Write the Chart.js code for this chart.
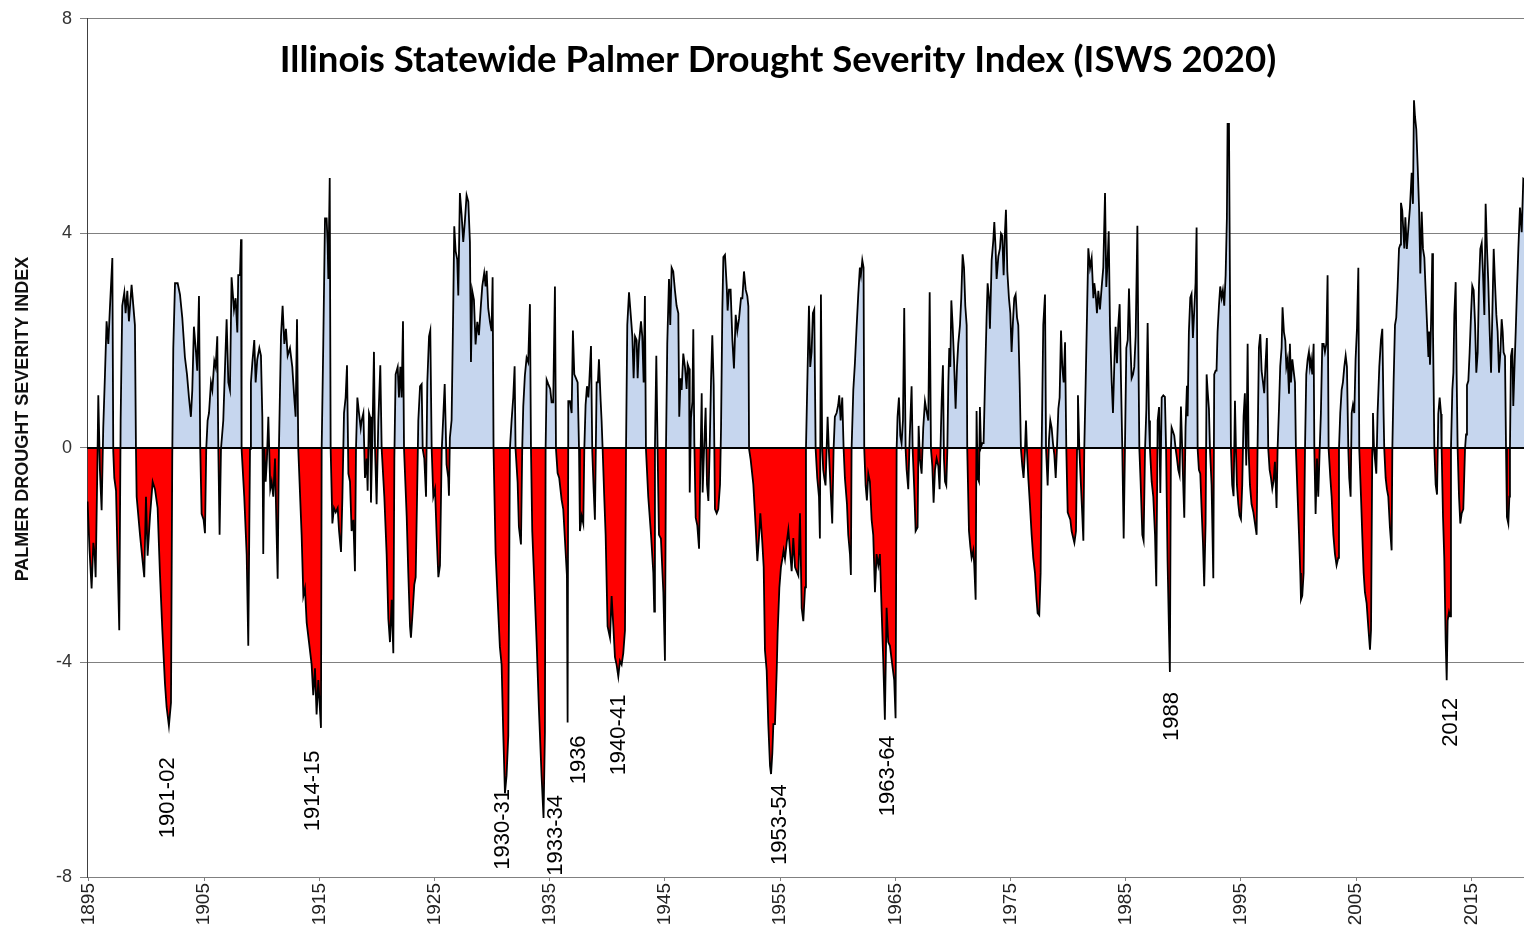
<!DOCTYPE html>
<html>
<head>
<meta charset="utf-8">
<title>Illinois Statewide Palmer Drought Severity Index</title>
<script src="https://cdn.jsdelivr.net/npm/chart.js@4.4.1/dist/chart.umd.min.js"></script>
<style>
  html, body { margin: 0; padding: 0; background: #fff; }
  #chart { display: block; }
</style>
</head>
<body>
<canvas id="chart" width="1524" height="933"></canvas>
<script>
// monthly PDSI turning points, one pair of arrays per stretch of years
const t1895 = [1894.88,1895.05,1895.23,1895.38,1895.50,1895.58,1895.75,1895.81,1895.95,1896.10,
  1896.24,1896.39,1896.53,1896.68,1896.82,1897.03,1897.11,1897.20,1897.35,1897.63,
  1897.75,1897.89,1898.07,1898.18,1898.33,1898.47,1898.70,1898.99,1899.08,1899.14,
  1899.43,1899.63,1899.80,1899.95,1900.09,1900.30,1900.53,1900.73,1900.96,1901.16,
  1901.37,1901.60,1901.74,1901.94,1902.12,1902.23,1902.32,1902.47,1902.70,1902.90,
  1903.10,1903.33,1903.51,1903.68,1903.85,1903.97,1904.11,1904.29,1904.40,1904.55,
  1904.66,1904.78,1904.95,1905.07];
const v1895 = [-1.0,-1.9,-2.62,-1.77,-2.0,-2.41,-0.06,0.98,-0.41,-1.16,
  0.37,1.37,2.36,1.94,2.61,3.54,-0.06,-0.56,-0.8,-3.40,
  0.51,2.65,2.90,2.51,2.93,2.36,3.04,2.29,-0.02,-0.91,
  -1.62,-2.05,-2.41,-0.91,-2.01,-1.27,-0.63,-0.77,-1.12,-2.33,
  -3.40,-4.40,-4.83,-5.18,-4.75,-0.20,1.86,3.07,3.07,2.86,
  2.43,1.69,1.37,0.94,0.58,1.08,2.26,1.79,1.44,2.83,
  -0.02,-1.23,-1.34,-1.59];

const t1905 = [1905.18,1905.30,1905.42,1905.59,1905.71,1905.88,1906.00,1906.14,1906.23,1906.34,
  1906.46,1906.66,1906.81,1906.95,1907.10,1907.24,1907.38,1907.59,1907.73,1907.88,
  1907.96,1908.11,1908.20,1908.25,1908.48,1908.69,1908.83,1908.98,1909.06,1909.18,
  1909.35,1909.47,1909.61,1909.79,1909.93,1910.05,1910.13,1910.22,1910.34,1910.45,
  1910.57,1910.65,1910.74,1910.86,1911.00,1911.15,1911.29,1911.38,1911.49,1911.67,
  1911.81,1911.96,1912.10,1912.25,1912.45,1912.65,1912.82,1912.94,1913.06,1913.17,
  1913.46,1913.61,1913.75,1913.90,1914.10,1914.33,1914.47,1914.62,1914.76,1914.91,
  1915.14,1915.20,1915.34,1915.49];
const v1905 = [-0.02,0.51,0.65,1.22,1.08,1.62,1.51,2.08,-0.02,-1.62,
  -0.02,0.51,1.51,2.40,1.22,1.08,3.18,2.58,2.79,2.15,
  3.22,3.22,3.89,-0.02,-0.91,-1.98,-3.69,-0.02,1.22,1.58,
  2.01,1.22,1.65,1.86,1.72,0.58,-1.98,0.01,-0.63,-0.20,
  0.58,-0.06,-0.77,-0.63,-0.91,-0.20,-1.62,-2.44,-0.02,2.08,
  2.65,1.94,2.22,1.72,1.86,1.51,0.94,0.58,2.40,-0.02,
  -1.62,-2.76,-2.62,-3.26,-3.62,-4.04,-4.61,-4.11,-4.97,-4.33,
  -5.22,-0.02,1.94,4.28];

const t1915 = [1915.63,1915.72,1915.78,1915.90,1915.98,1916.13,1916.27,1916.42,1916.59,1916.71,
  1916.88,1917.00,1917.14,1917.28,1917.40,1917.52,1917.66,1917.80,1917.95,1918.09,
  1918.18,1918.30,1918.44,1918.59,1918.67,1918.82,1918.96,1919.11,1919.19,1919.31,
  1919.40,1919.48,1919.63,1919.74,1919.83,1919.97,1920.12,1920.29,1920.41,1920.64,
  1920.84,1920.99,1921.13,1921.28,1921.42,1921.51,1921.62,1921.80,1921.91,1922.03,
  1922.14,1922.26,1922.35,1922.58,1922.72,1922.87,1922.95,1923.10,1923.24,1923.36,
  1923.48,1923.59,1923.74,1923.88,1923.97,1924.11,1924.26,1924.37,1924.52,1924.63,
  1924.75,1924.89,1925.04,1925.18,1925.33,1925.47,1925.62,1925.76,1925.88];
const v1915 = [4.28,3.79,3.15,5.03,-0.02,-1.41,-1.12,-1.20,-1.12,-1.55,
  -1.94,-0.91,0.65,0.94,1.54,-0.48,-0.63,-1.55,-1.34,-2.30,
  -0.02,0.94,0.65,0.37,0.51,0.65,-0.56,-0.20,-0.80,0.65,
  0.58,-1.02,0.51,1.79,0.01,-1.05,0.51,1.54,-0.02,-0.91,
  -1.98,-3.19,-3.62,-2.83,-3.83,-0.20,1.37,1.51,0.94,1.51,
  0.94,2.36,-0.02,-1.27,-2.33,-3.33,-3.54,-3.05,-2.55,-2.41,
  -0.91,0.51,1.15,1.19,-0.02,-0.20,-0.91,1.22,2.08,2.19,
  -0.02,-0.91,-0.77,-1.62,-2.41,-2.19,-0.06,0.6,1.19];

const t1926 = [1926.04,1926.19,1926.25,1926.33,1926.48,1926.62,1926.71,1926.83,1926.97,1927.06,
  1927.20,1927.35,1927.49,1927.64,1927.78,1927.93,1928.07,1928.16,1928.27,1928.42,
  1928.56,1928.71,1928.85,1929.03,1929.14,1929.31,1929.43,1929.52,1929.66,1929.81,
  1929.95,1930.04,1930.12,1930.30,1930.47,1930.67,1930.82,1930.96,1931.11,1931.25,
  1931.40,1931.54,1931.69,1931.83,1931.95,1932.03,1932.21,1932.32,1932.50,1932.61,
  1932.70,1932.84,1932.99,1933.13,1933.28,1933.37,1933.48,1933.65,1933.86,1934.06,
  1934.29,1934.46,1934.58,1934.64,1934.73,1934.87,1935.04,1935.16,1935.30,1935.45,
  1935.54,1935.68,1935.82,1936.03,1936.17,1936.32,1936.49];
const v1926 = [-0.31,-0.56,-0.89,0.19,0.52,2.60,4.13,3.67,3.51,2.84,
  4.75,4.34,3.84,4.25,4.71,4.59,3.84,1.60,2.93,2.76,
  1.93,2.35,2.10,2.68,3.01,3.26,3.01,3.30,2.60,2.35,
  2.18,3.18,-0.02,-1.97,-2.79,-3.71,-4.04,-5.29,-6.44,-6.11,
  -5.36,-0.02,0.52,0.94,1.52,-0.02,-0.64,-1.47,-1.80,-0.02,
  0.77,1.35,1.68,1.60,2.68,-0.02,-1.55,-2.46,-3.62,-4.87,
  -6.11,-6.90,-5.29,-0.02,1.27,1.19,1.10,0.85,0.85,3.01,
  -0.02,-0.47,-0.56,-0.97,-1.14,-1.72,-2.38];

const t1936 = [1936.55,1936.61,1936.75,1936.90,1937.01,1937.13,1937.27,1937.42,1937.54,1937.62,
  1937.77,1937.91,1938.00,1938.11,1938.23,1938.35,1938.43,1938.58,1938.69,1938.81,
  1938.92,1939.07,1939.18,1939.27,1939.42,1939.50,1939.59,1939.73,1939.85,1940.02,
  1940.23,1940.37,1940.52,1940.66,1940.80,1940.95,1941.09,1941.24,1941.38,1941.53,
  1941.62,1941.73,1941.88,1942.02,1942.17,1942.28,1942.40,1942.54,1942.63,1942.74,
  1942.92,1943.03,1943.15,1943.26,1943.35,1943.55,1943.79,1943.99,1944.07,1944.13,
  1944.25,1944.36,1944.48,1944.65,1944.86,1945.00,1945.09,1945.20,1945.35,1945.46,
  1945.58,1945.72,1945.87,1946.01,1946.16,1946.24,1946.36,1946.45,1946.59,1946.74,
  1946.88,1946.97];
const v1936 = [-5.12,0.87,0.87,0.65,2.19,1.37,1.30,1.22,-0.02,-1.55,
  -1.27,-1.41,-0.02,0.80,1.15,0.94,1.22,1.90,-0.06,-0.77,
  -1.34,1.22,1.22,1.65,0.87,0.51,-0.02,-0.91,-1.62,-3.33,
  -3.54,-2.76,-3.33,-3.90,-4.04,-4.26,-3.97,-4.04,-3.83,-3.40,
  -0.02,2.29,2.90,2.51,2.08,1.30,2.08,2.01,1.30,1.94,
  2.36,2.08,1.22,2.83,-0.02,-0.91,-1.62,-2.33,-3.05,-0.02,
  1.72,-0.02,-1.62,-1.69,-2.69,-3.97,-0.02,1.94,3.15,2.29,
  3.36,3.29,2.93,2.65,2.51,0.58,1.30,1.08,1.76,1.5,
  1.10,1.56];

const t1947 = [1947.09,1947.15,1947.26,1947.38,1947.46,1947.55,1947.67,1947.81,1947.96,1948.07,
  1948.19,1948.27,1948.39,1948.53,1948.65,1948.77,1948.88,1949.00,1949.11,1949.23,
  1949.34,1949.49,1949.63,1949.78,1949.87,1949.98,1950.07,1950.21,1950.36,1950.44,
  1950.56,1950.70,1950.85,1950.99,1951.14,1951.28,1951.43,1951.60,1951.72,1951.86,
  1952.01,1952.15,1952.24,1952.30,1952.44,1952.67,1952.87,1953.02,1953.16,1953.28,
  1953.45,1953.57,1953.68,1953.83,1953.97,1954.12,1954.21,1954.32,1954.41,1954.55,
  1954.70,1954.78,1954.93,1955.07,1955.19,1955.30,1955.42,1955.57,1955.71,1955.85,
  1956.00,1956.14,1956.29,1956.43,1956.58,1956.72,1956.87,1957.01,1957.16];
const v1947 = [1.48,-0.83,0.56,0.86,2.21,0.09,-1.30,-1.45,-1.88,-0.37,
  1.02,-0.83,-0.06,0.75,-0.68,-0.99,-0.02,1.25,2.10,1.17,
  -1.14,-1.22,-1.14,-0.68,0.40,2.56,3.56,3.60,3.02,2.56,
  2.95,2.95,2.02,1.48,2.48,2.18,2.41,2.79,2.79,3.29,
  2.95,2.83,2.64,-0.02,-0.22,-0.68,-1.45,-2.11,-1.68,-1.22,
  -1.76,-2.22,-3.77,-4.15,-5.15,-5.93,-6.08,-5.69,-5.15,-5.15,
  -4.15,-3.46,-2.61,-2.22,-2.07,-1.91,-2.07,-1.76,-1.53,-1.91,
  -2.30,-1.68,-2.22,-2.30,-2.38,-1.22,-2.99,-3.23,-2.60];

const t1957 = [1957.24,1957.38,1957.50,1957.61,1957.73,1957.84,1957.96,1958.08,1958.22,1958.37,
  1958.45,1958.54,1958.65,1958.74,1958.83,1958.94,1959.03,1959.12,1959.23,1959.41,
  1959.52,1959.64,1959.75,1959.90,1960.04,1960.13,1960.25,1960.39,1960.51,1960.62,
  1960.80,1960.91,1961.06,1961.14,1961.20,1961.35,1961.49,1961.63,1961.78,1961.92,
  1962.01,1962.13,1962.24,1962.30,1962.42,1962.53,1962.65,1962.79,1962.94,1963.08,
  1963.23,1963.37,1963.52,1963.66,1963.81,1963.95,1964.09,1964.24,1964.38,1964.53,
  1964.73,1964.90,1965.02,1965.11,1965.19,1965.31,1965.43,1965.54,1965.66,1965.77,
  1965.89,1965.98,1966.12,1966.24,1966.41,1966.50,1966.64,1966.76,1966.93,1967.02,
  1967.13,1967.28,1967.42,1967.57,1967.74];
const v1957 = [-0.02,1.44,2.65,1.51,1.79,2.51,2.58,-0.02,-0.56,-0.91,
  -1.69,2.86,-0.02,-0.41,-0.56,-0.70,-0.06,0.58,-0.06,-0.91,
  -1.41,-0.02,0.58,0.65,0.80,0.98,0.51,0.94,-0.02,-0.56,
  -1.05,-1.62,-1.98,-2.37,-0.02,1.08,1.58,2.22,2.86,3.36,
  3.22,3.50,3.36,-0.02,-0.70,-0.98,-0.48,-0.63,-1.34,-1.62,
  -2.69,-1.98,-2.19,-1.98,-3.05,-3.97,-5.07,-2.98,-3.62,-3.69,
  -4.04,-4.33,-5.04,-0.02,0.58,0.94,0.23,0.09,0.51,2.61,
  -0.02,-0.41,-0.77,0.16,1.15,-0.02,-0.77,-1.55,-1.48,0.41,
  -0.20,-0.48,0.37,0.87,0.65];

const t1968 = [1967.86,1967.98,1968.09,1968.21,1968.32,1968.44,1968.58,1968.73,1968.84,1968.96,
  1969.02,1969.13,1969.22,1969.31,1969.42,1969.51,1969.60,1969.68,1969.77,1969.86,
  1969.97,1970.09,1970.23,1970.35,1970.46,1970.61,1970.72,1970.84,1970.96,1971.07,
  1971.19,1971.24,1971.39,1971.51,1971.62,1971.77,1971.85,1971.97,1972.05,1972.14,
  1972.26,1972.34,1972.43,1972.55,1972.66,1972.78,1972.92,1973.01,1973.13,1973.21,
  1973.36,1973.50,1973.59,1973.70,1973.79,1973.94,1974.08,1974.17,1974.28,1974.40,
  1974.51,1974.60,1974.72,1974.86,1974.98,1975.09,1975.21,1975.32,1975.44,1975.56,
  1975.67,1975.79,1975.90,1976.02,1976.13,1976.25,1976.34,1976.42,1976.54,1976.68,
  1976.83,1976.97,1977.12,1977.26,1977.35,1977.49,1977.61,1977.70,1977.84,1977.99];
const v1968 = [0.51,2.90,-0.02,-0.34,-1.02,-0.41,-0.20,-0.34,-0.77,0.37,
  0.87,1.54,-0.20,-0.63,-0.70,-0.06,1.22,1.86,1.51,2.75,
  2.29,1.65,0.73,1.51,1.94,2.29,2.79,3.61,3.36,2.65,
  2.29,-0.02,-1.55,-1.84,-2.05,-1.91,-2.19,-2.83,0.69,-0.56,
  -0.63,0.76,0.01,0.09,0.09,1.22,2.43,3.07,2.79,2.22,
  3.50,3.86,4.21,3.72,3.15,3.57,3.72,4.00,3.96,3.22,
  4.00,4.44,3.29,2.79,2.51,1.79,2.36,2.79,2.86,2.43,
  2.29,1.22,-0.02,-0.34,-0.56,-0.06,0.51,-0.02,-0.56,-1.05,
  -1.62,-2.05,-2.33,-2.83,-3.08,-3.12,-2.33,-0.02,2.29,2.86];

const t1978 = [1978.08,1978.22,1978.34,1978.45,1978.57,1978.68,1978.80,1978.92,1979.03,1979.15,
  1979.26,1979.38,1979.49,1979.61,1979.73,1979.84,1979.96,1980.07,1980.19,1980.30,
  1980.45,1980.54,1980.68,1980.77,1980.85,1980.97,1981.11,1981.23,1981.32,1981.40,
  1981.52,1981.64,1981.75,1981.90,1982.04,1982.19,1982.27,1982.39,1982.50,1982.62,
  1982.76,1982.91,1983.05,1983.20,1983.31,1983.43,1983.52,1983.63,1983.78,1983.89,
  1984.01,1984.12,1984.24,1984.35,1984.47,1984.59,1984.70,1984.82,1984.93,1985.05,
  1985.17,1985.28,1985.40,1985.51,1985.63,1985.74,1985.86,1986.01,1986.09,1986.18,
  1986.29,1986.44,1986.55,1986.67,1986.79,1986.90,1987.02,1987.10,1987.25,1987.39,
  1987.54,1987.65,1987.77,1987.89,1988.00,1988.12,1988.26];
const v1978 = [-0.02,-0.70,0.16,0.51,0.37,0.09,-0.13,-0.56,0.01,0.73,
  0.94,2.19,1.51,1.22,1.97,-0.02,-1.20,-1.27,-1.34,-1.55,
  -1.69,-1.77,-1.55,-0.02,0.98,-0.02,-0.70,-1.27,-1.73,-0.02,
  1.22,2.51,3.72,3.36,3.54,2.79,3.07,2.86,2.51,2.93,
  2.58,3.00,3.36,4.75,3.00,3.50,4.04,2.29,1.22,0.65,
  1.58,2.26,1.58,2.29,2.68,1.22,-0.02,-1.69,-0.02,1.86,
  2.01,2.97,1.94,1.30,1.37,1.51,2.08,4.14,1.94,-0.02,
  -0.63,-1.62,-1.73,-0.06,0.73,2.33,0.51,-0.02,-0.63,-0.91,
  -1.62,-2.58,0.51,0.76,-0.84,0.94,0.98];

const t1988 = [1988.40,1988.50,1988.63,1988.75,1988.83,1988.92,1988.98,1989.09,1989.21,1989.33,
  1989.44,1989.56,1989.67,1989.79,1989.90,1989.99,1990.08,1990.19,1990.31,1990.37,
  1990.48,1990.60,1990.71,1990.83,1990.95,1991.06,1991.15,1991.24,1991.35,1991.47,
  1991.58,1991.70,1991.81,1991.93,1992.02,1992.10,1992.22,1992.31,1992.45,1992.60,
  1992.68,1992.80,1992.88,1992.97,1993.09,1993.20,1993.32,1993.43,1993.55,1993.67,
  1993.78,1993.84,1993.96,1994.04,1994.13,1994.24,1994.36,1994.48,1994.56,1994.65,
  1994.77,1994.88,1995.00,1995.11,1995.23,1995.34,1995.46,1995.58,1995.66,1995.78,
  1995.92,1996.07,1996.21,1996.36,1996.44,1996.56,1996.68,1996.79,1996.91,1997.02,
  1997.14,1997.25,1997.37,1997.49,1997.60,1997.72,1997.83,1997.95,1998.09,1998.18,
  1998.30,1998.41,1998.53,1998.61,1998.73];
const v1988 = [0.95,-0.02,-2.11,-3.40,-4.18,-0.02,0.38,0.31,0.23,-0.02,
  -0.19,-0.41,-0.51,0.77,-0.02,-0.69,-1.30,0.38,1.16,0.59,
  2.16,2.80,2.87,2.05,2.58,3.08,4.11,-0.02,-0.41,-0.48,
  -1.12,-1.76,-2.58,-1.40,1.37,1.09,0.73,-0.02,-0.69,-2.43,
  1.37,1.44,1.44,2.16,2.65,3.01,2.80,2.94,2.65,3.22,
  4.29,6.04,6.04,3.22,-0.02,-0.69,-0.90,0.88,0.02,-0.69,
  -1.05,-1.26,-1.33,-0.69,0.59,1.02,-0.33,1.94,-0.02,-0.69,
  -1.05,-1.19,-1.40,-1.62,-0.02,1.87,2.12,1.44,1.23,1.02,
  1.59,2.05,-0.02,-0.41,-0.55,-0.76,-0.62,-0.26,-1.12,-0.02,
  0.73,1.52,1.87,2.62,2.16];

const t1999 = [1998.85,1998.94,1999.05,1999.17,1999.25,1999.34,1999.46,1999.57,1999.69,1999.77,
  1999.92,2000.04,2000.15,2000.21,2000.32,2000.44,2000.56,2000.67,2000.79,2000.90,
  2000.99,2001.08,2001.19,2001.31,2001.37,2001.48,2001.60,2001.71,2001.83,2001.94,
  2002.06,2002.18,2002.29,2002.41,2002.52,2002.61,2002.76,2002.87,2003.02,2003.16,
  2003.30,2003.45,2003.51,2003.62,2003.74,2003.85,2003.97,2004.09,2004.20,2004.32,
  2004.40,2004.52,2004.61,2004.72,2004.84,2004.95,2005.07,2005.19,2005.27,2005.42,
  2005.53,2005.65,2005.76,2005.91,2006.05,2006.20,2006.29,2006.40,2006.46,2006.55,
  2006.63,2006.75,2006.86,2007.01,2007.15,2007.27,2007.38,2007.44,2007.56,2007.67,
  2007.79,2007.93,2008.08,2008.14,2008.25,2008.37,2008.48,2008.60,2008.72,2008.83,
  2008.89,2009.00,2009.09,2009.18,2009.27,2009.40];
const v1999 = [2.0,1.51,1.65,1.01,1.94,1.22,1.65,1.44,1.22,-0.02,
  -0.91,-1.62,-2.33,-2.83,-2.76,-2.33,-0.02,1.37,1.65,1.79,
  1.51,1.65,1.37,1.94,-0.02,-1.23,-0.20,-0.91,-0.06,0.65,
  1.94,1.94,1.79,1.94,3.22,-0.02,-0.56,-0.91,-1.62,-1.98,
  -2.19,-2.05,-0.02,0.65,1.08,1.22,1.51,1.72,1.51,-0.02,
  -0.56,-0.91,0.65,0.80,0.65,1.65,2.22,3.36,-0.02,-0.91,
  -1.62,-2.33,-2.69,-2.90,-3.33,-3.76,-3.40,-0.02,0.65,-0.02,
  -0.20,-0.48,0.65,1.51,2.01,2.22,0.65,-0.02,-0.56,-0.77,
  -0.91,-1.48,-1.91,-0.02,1.22,2.29,2.43,3.00,3.72,3.79,
  4.57,4.43,4.07,3.72,4.3,3.71];

const t2009 = [2009.53,2009.67,2009.82,2009.93,2010.02,2010.11,2010.22,2010.34,2010.46,2010.57,
  2010.69,2010.80,2010.92,2011.03,2011.15,2011.27,2011.32,2011.41,2011.50,2011.61,
  2011.67,2011.79,2011.90,2012.02,2012.13,2012.25,2012.37,2012.42,2012.54,2012.65,
  2012.77,2012.86,2012.94,2013.06,2013.15,2013.23,2013.35,2013.44,2013.52,2013.64,
  2013.72,2013.81,2013.93,2014.04,2014.16,2014.30,2014.45,2014.54,2014.62,2014.74,
  2014.85,2014.97,2015.08,2015.20,2015.32,2015.43,2015.55,2015.66,2015.78,2015.90,
  2016.01,2016.13,2016.24,2016.36,2016.47,2016.59,2016.71,2016.82,2016.94,2017.05,
  2017.17,2017.28,2017.40,2017.52,2017.63,2017.72,2017.80,2017.92,2018.01,2018.09,
  2018.21,2018.30,2018.35,2018.44,2018.56,2018.64,2018.73,2018.85,2018.96,2019.08,
  2019.22,2019.37,2019.51,2019.65];
const v2009 = [4.09,4.48,5.13,4.55,6.48,6.17,5.94,5.25,4.48,3.25,
  4.40,3.71,3.55,2.94,2.32,1.71,2.17,1.55,2.32,3.63,
  2.17,-0.02,-0.68,-0.87,0.63,0.94,0.63,-0.02,-1.29,-2.06,
  -3.60,-4.33,-3.22,-3.06,-3.14,-0.02,1.09,1.40,2.48,3.09,
  1.40,-0.02,-0.91,-1.41,-1.22,-1.14,-0.02,0.25,1.17,1.25,
  1.78,2.48,3.02,2.94,2.32,1.40,1.78,3.02,3.71,3.82,
  3.25,2.48,4.55,3.71,3.09,2.17,1.40,2.48,3.71,3.09,
  2.48,2.17,1.40,1.78,2.40,2.17,1.78,1.71,-0.02,-1.29,
  -1.41,-0.91,-0.02,1.71,1.86,0.78,1.40,2.17,2.94,3.71,
  4.48,4.02,5.02,5.0];

const tickYears = [1895, 1905, 1915, 1925, 1935, 1945, 1955, 1965, 1975, 1985, 1995, 2005, 2015];
const yTicks = [8, 4, 0, -4, -8];

// drought episodes written under the troughs (year, PDSI where the label starts)
const droughtNames = ["1901-02", "1914-15", "1930-31", "1933-34", "1936", "1940-41", "1953-54", "1963-64", "1988", "2012"];
const droughtYears = [1901.86, 1914.44, 1930.94, 1935.54, 1937.53, 1941.01, 1954.98, 1964.36, 1989.01, 2013.23];
const droughtTops = [-5.77, -5.64, -6.36, -6.47, -5.36, -4.60, -6.27, -5.36, -4.55, -4.66];

const chartTitle = "Illinois Statewide Palmer Drought Severity Index (ISWS 2020)";
const yTitle = "PALMER DROUGHT SEVERITY INDEX";

const years = [].concat(t1895, t1905, t1915, t1926, t1936, t1947, t1957, t1968, t1978, t1988, t1999, t2009);
const pdsi = [].concat(v1895, v1905, v1915, v1926, v1936, v1947, v1957, v1968, v1978, v1988, v1999, v2009);
const points = years.map((yr, i) => ({ x: yr, y: pdsi[i] }));

const FONT = "'Liberation Sans', Arial, sans-serif";

// title, y axis caption, zero line and drought labels
const overlay = {
  id: "overlay",
  afterDatasetsDraw(chart) {
    const ctx = chart.ctx;
    const xs = chart.scales.x;
    const ys = chart.scales.y;
    const area = chart.chartArea;
    ctx.save();

    // zero line sits on top of the fills
    const y0 = ys.getPixelForValue(0);
    ctx.strokeStyle = "#000";
    ctx.lineWidth = 2;
    ctx.beginPath();
    ctx.moveTo(area.left, y0);
    ctx.lineTo(area.right, y0);
    ctx.stroke();

    // title, sized to its line width
    let size = 32;
    ctx.font = "bold " + size + "px Lato";
    size = size * 996 / ctx.measureText(chartTitle).width;
    ctx.font = "bold " + size.toFixed(1) + "px Lato";
    ctx.fillStyle = "#000";
    ctx.textAlign = "center";
    ctx.textBaseline = "middle";
    ctx.fillText(chartTitle, area.left + 691, 60);

    // y axis caption
    ctx.save();
    ctx.translate(23, 419);
    ctx.rotate(-Math.PI / 2);
    ctx.font = "bold 18px " + FONT;
    ctx.fillStyle = "#111";
    ctx.fillText(yTitle, 0, 0);
    ctx.restore();

    // drought labels, read bottom to top, ending just under each trough
    ctx.font = "22px " + FONT;
    ctx.fillStyle = "#000";
    droughtNames.forEach((name, i) => {
      ctx.save();
      ctx.translate(xs.getPixelForValue(droughtYears[i]), ys.getPixelForValue(droughtTops[i]));
      ctx.rotate(-Math.PI / 2);
      ctx.textAlign = "right";
      ctx.textBaseline = "middle";
      ctx.fillText(name, 0, 0);
      ctx.restore();
    });

    ctx.restore();
  }
};

new Chart(document.getElementById("chart"), {
  type: "line",
  data: {
    datasets: [{
      data: points,
      borderColor: "#000",
      borderWidth: 1.8,
      pointRadius: 0,
      tension: 0,
      fill: { target: "origin", above: "#c6d6ee", below: "#ff0000" }
    }]
  },
  options: {
    responsive: false,
    animation: false,
    devicePixelRatio: 1,
    layout: { autoPadding: false, padding: { top: 15, right: 0, bottom: 0, left: 0 } },
    plugins: { legend: { display: false }, tooltip: { enabled: false }, title: { display: false } },
    scales: {
      x: {
        type: "linear",
        min: 1894.83,
        max: 2019.57,
        afterBuildTicks: (s) => { s.ticks = tickYears.map((v) => ({ value: v })); },
        afterFit: (s) => { s.height = 56; },
        grid: { drawOnChartArea: false, drawTicks: true, tickLength: 4, color: "#808080" },
        border: { color: "#808080" },
        ticks: {
          autoSkip: false,
          minRotation: 90,
          maxRotation: 90,
          padding: 2,
          color: "#222",
          font: { family: FONT, size: 19 },
          callback: (v) => String(v)
        }
      },
      y: {
        min: -8,
        max: 8,
        afterBuildTicks: (s) => { s.ticks = yTicks.map((v) => ({ value: v })); },
        afterFit: (s) => { s.width = 87; },
        grid: { color: "#808080", lineWidth: 1, tickLength: 7 },
        border: { color: "#404040" },
        ticks: {
          padding: 8,
          color: "#333",
          font: { family: FONT, size: 18 },
          callback: (v) => String(v)
        }
      }
    }
  },
  plugins: [overlay]
});
</script>
</body>
</html>
